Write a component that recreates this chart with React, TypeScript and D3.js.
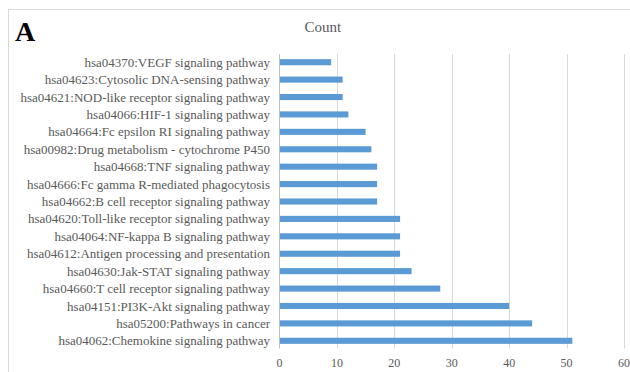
import React from "react";
import * as d3 from "d3";

// KEGG pathways, top to bottom as drawn
const pathways: string[] = [
  "hsa04370:VEGF signaling pathway",
  "hsa04623:Cytosolic DNA-sensing pathway",
  "hsa04621:NOD-like receptor signaling pathway",
  "hsa04066:HIF-1 signaling pathway",
  "hsa04664:Fc epsilon RI signaling pathway",
  "hsa00982:Drug metabolism - cytochrome P450",
  "hsa04668:TNF signaling pathway",
  "hsa04666:Fc gamma R-mediated phagocytosis",
  "hsa04662:B cell receptor signaling pathway",
  "hsa04620:Toll-like receptor signaling pathway",
  "hsa04064:NF-kappa B signaling pathway",
  "hsa04612:Antigen processing and presentation",
  "hsa04630:Jak-STAT signaling pathway",
  "hsa04660:T cell receptor signaling pathway",
  "hsa04151:PI3K-Akt signaling pathway",
  "hsa05200:Pathways in cancer",
  "hsa04062:Chemokine signaling pathway",
];

// Gene counts per pathway
const counts: number[] = [9, 11, 11, 12, 15, 16, 17, 17, 17, 21, 21, 21, 23, 28, 40, 44, 51];

const xTicks: number[] = [0, 10, 20, 30, 40, 50, 60];

const title = "Count";
const panelLabel = "A";

const W = 630;
const H = 372;
const textColor = "#595959";
const gridColor = "#d9d9d9";
const barColor = "#5b9bd5";
const serif = "Liberation Serif";

export default function App() {
  const x = d3.scaleLinear().domain([0, 60]).range([279.5, 624]);
  const y = d3
    .scaleBand<string>()
    .domain(pathways)
    .range([53.5, 349.5])
    .paddingInner(0.65)
    .paddingOuter(0.325);

  const gridTop = 54;
  const gridBottom = 348.5;

  return (
    <svg
      width={W}
      height={H}
      style={{ position: "absolute", left: 0, top: 0, background: "#fff", fontFamily: serif }}
    >
      <rect x={0} y={0} width={W} height={H} fill="#fff" />
      {/* chart frame */}
      <rect x={8.5} y={9.5} width={W + 10} height={H + 10} fill="none" stroke="#d9d9d9" strokeWidth={1} />

      <text x={15} y={40.5} fontSize={28} fontWeight="bold" fill="#000" style={{ fontFamily: serif }}>
        {panelLabel}
      </text>
      <text x={322.8} y={32} fontSize={15} textAnchor="middle" fill={textColor} style={{ fontFamily: serif }}>
        {title}
      </text>

      {/* vertical gridlines */}
      {xTicks.slice(1).map((t) => (
        <line
          key={t}
          x1={Math.round(x(t)) + 0.5}
          x2={Math.round(x(t)) + 0.5}
          y1={gridTop}
          y2={gridBottom}
          stroke={gridColor}
          strokeWidth={1}
        />
      ))}

      {/* bars */}
      {pathways.map((p, i) => (
        <rect
          key={p}
          x={x(0)}
          y={y(p)!}
          width={x(counts[i]) - x(0)}
          height={y.bandwidth()}
          fill={barColor}
        />
      ))}

      {/* category axis line */}
      <line x1={x(0)} x2={x(0)} y1={gridTop} y2={gridBottom} stroke="#bfbfbf" strokeWidth={1} />

      {/* category labels */}
      {pathways.map((p) => (
        <text
          key={p}
          x={270}
          y={y(p)! + y.bandwidth() / 2}
          dy="0.35em"
          fontSize={13}
          textAnchor="end"
          fill={textColor}
          style={{ fontFamily: serif }}
        >
          {p}
        </text>
      ))}

      {/* value tick labels */}
      {xTicks.map((t) => (
        <text key={t} x={x(t)} y={367} fontSize={12} textAnchor="middle" fill={textColor} style={{ fontFamily: serif }}>
          {t}
        </text>
      ))}
    </svg>
  );
}
